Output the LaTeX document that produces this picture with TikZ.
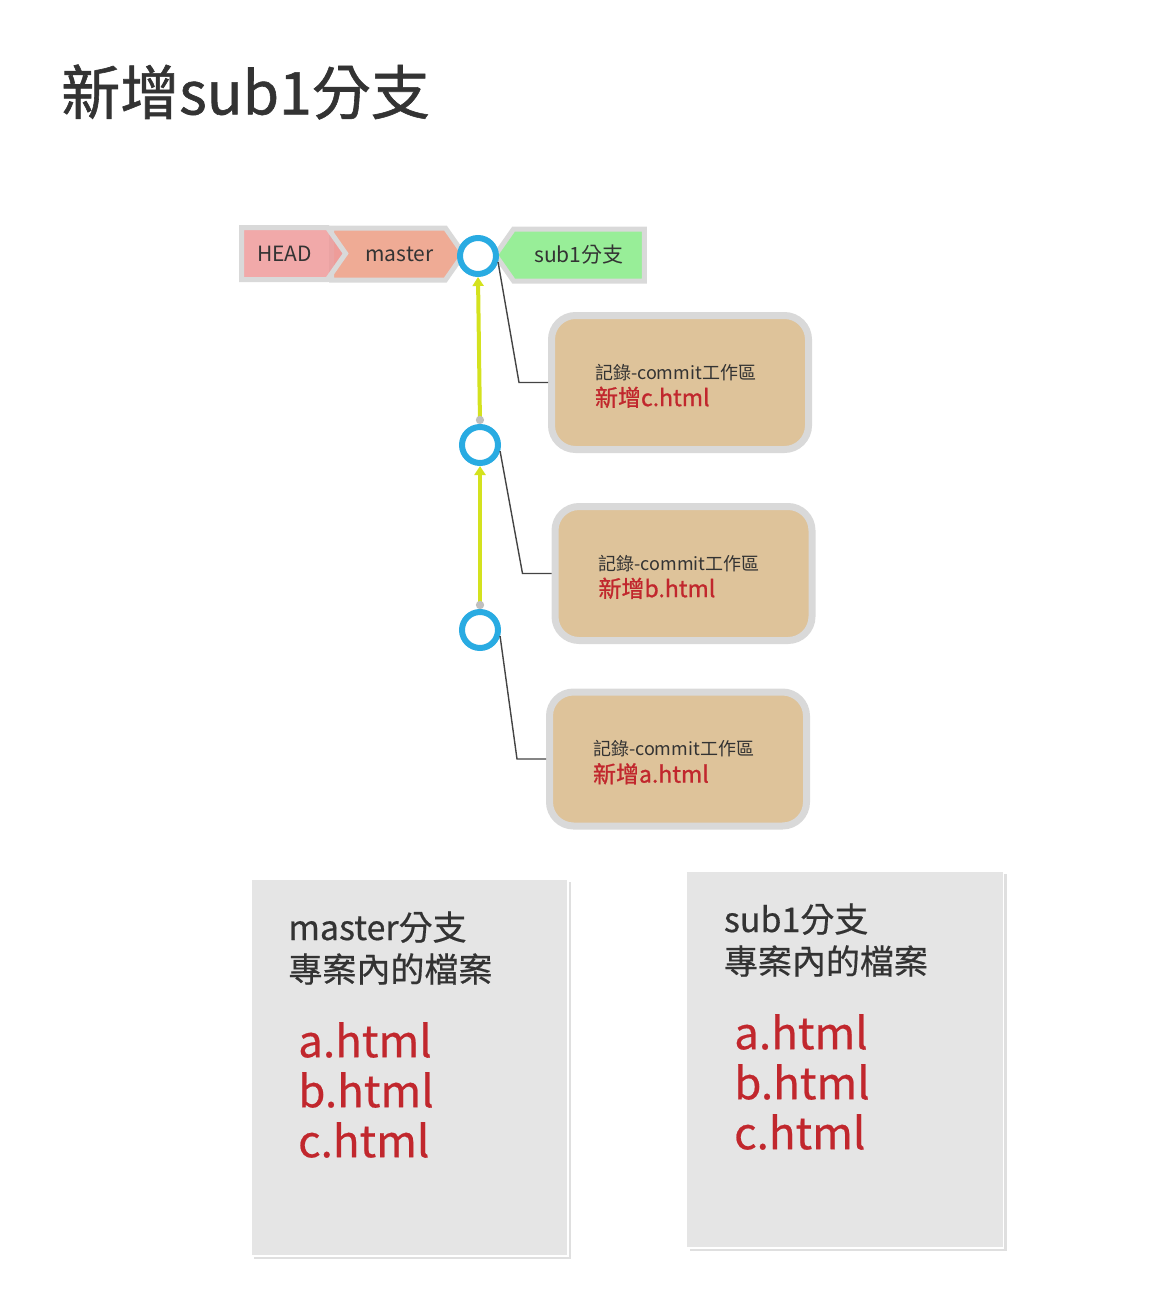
\documentclass[tikz,border=0pt]{standalone}
\usepackage{fontspec}
\setmainfont{Noto Sans CJK TC}
\newfontfamily\heavyfont{Noto Sans CJK TC}[FakeBold=1]
\newfontfamily\semifont{Noto Sans CJK TC}[FakeBold=0.5]
\usetikzlibrary{shapes,arrows.meta,positioning,shadows}

\definecolor{txtdark}{HTML}{333333}
\definecolor{tagline}{HTML}{D9D9D9}
\definecolor{headred}{HTML}{EE9A9A}
\definecolor{mastersalmon}{HTML}{EFAB95}
\definecolor{subgreen}{HTML}{98EE98}
\definecolor{commitblue}{HTML}{29ABE2}
\definecolor{parentgreen}{HTML}{D4E21E}
\definecolor{worktan}{HTML}{DEC39A}
\definecolor{filered}{HTML}{C1272D}
\definecolor{filegray}{HTML}{E5E5E5}
\definecolor{linkgray}{HTML}{444444}

\newcommand{\worknote}{\rule{0pt}{22pt}記錄-commit工作區}
\newcommand{\addedfile}[1]{{\color{filered}\heavyfont\fontsize{23}{28}\selectfont 新增#1}}

\begin{document}
\begin{tikzpicture}[
    x=1pt, y=-1pt,
    tag/.style={signal, draw=tagline, line width=5pt, signal pointer angle=110, minimum height=52pt, inner sep=0pt, text=txtdark, font=\fontsize{21}{24}\selectfont},
    commit/.style={circle, draw=commitblue, line width=6pt, fill=white, minimum size=36pt, inner sep=0pt},
    workbox/.style={rectangle, rounded corners=24pt, draw=tagline, line width=7pt, fill=worktan, minimum width=257pt, minimum height=134pt, text width=170pt, align=left, inner sep=0pt, text=txtdark, font=\fontsize{18}{26}\selectfont},
    filebox/.style={rectangle, draw=white, line width=1.5pt, fill=filegray, minimum width=317pt, minimum height=377pt, drop shadow={opacity=0.25, shadow xshift=3pt, shadow yshift=-3pt}},
    listhead/.style={align=left, inner sep=0pt, text=txtdark, font=\semifont\fontsize{34}{42}\selectfont},
    filelist/.style={align=left, inner sep=0pt, text=filered, font=\semifont\fontsize{44}{50}\selectfont},
    parent/.style={draw=parentgreen, line width=4pt, {Circle[length=8pt,color=gray!50]}-{Triangle[length=9pt,width=11pt]}},
    link/.style={draw=linkgray, line width=1.4pt}
]
\useasboundingbox (0,0) rectangle (1151,1314);

% Title
\node[anchor=west, inner sep=0pt, text=txtdark, font=\heavyfont\fontsize{59}{64}\selectfont] (title) at (61,92) {新增sub1分支};

% Branch tags
\node[tag, signal to=east, fill=mastersalmon, minimum width=132pt, text width=90pt, align=right] (master) at (388.5,254) {master};
\node[tag, signal to=east, fill=headred, fill opacity=0.85, text opacity=1, minimum width=104pt] (head) at (284.5,253.5) {HEAD};
\node[tag, signal to=west, fill=subgreen, minimum width=149pt] (sub) at (579,255) {sub1分支};

% Commits
\node[commit] (c1) at (478,256) {};
\node[commit] (c2) at (480,445) {};
\node[commit] (c3) at (480,630) {};

% Parent arrows
\draw[parent] (c2.north) -- (c1.south);
\draw[parent] (c3.north) -- (c2.south);

% Commit notes
\node[workbox] (work1) at (680,382.5) {\worknote\\[1pt]\addedfile{c.html}};
\node[workbox] (work2) at (683.5,573.5) {\worknote\\[1pt]\addedfile{b.html}};
\node[workbox] (work3) at (678,759) {\worknote\\[1pt]\addedfile{a.html}};

\draw[link] (c1.-17) -- ([xshift=-29pt]work1.west) -- (work1.west);
\draw[link] (c2.-17) -- ([xshift=-29pt]work2.west) -- (work2.west);
\draw[link] (c3.-17) -- ([xshift=-29pt]work3.west) -- (work3.west);

% Files in each branch
\node[filebox] (mfiles) at (409.5,1067.5) {};
\node[filebox] (sfiles) at (845,1059.5) {};

\node[listhead, below right=33pt and 38pt of mfiles.north west] (mhead) {master分支\\專案內的檔案};
\node[listhead, below right=33pt and 38pt of sfiles.north west] (shead) {sub1分支\\專案內的檔案};

\node[filelist, anchor=west] (mlist) at (298,1090) {a.html\\b.html\\c.html};
\node[filelist, anchor=west] (slist) at (734,1082) {a.html\\b.html\\c.html};

\end{tikzpicture}
\end{document}
